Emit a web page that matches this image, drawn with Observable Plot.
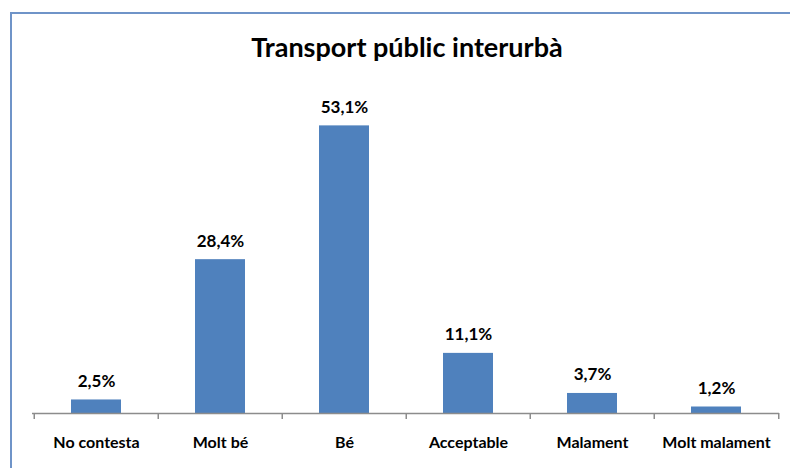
<!DOCTYPE html>
<html>
<head>
<meta charset="utf-8">
<script src="https://cdn.jsdelivr.net/npm/d3@7"></script>
<script src="https://cdn.jsdelivr.net/npm/@observablehq/plot@0.6"></script>
<style>
  html, body { margin: 0; padding: 0; background: #fff; }
  #wrap { position: relative; width: 790px; height: 468px; overflow: hidden; font-family: Lato, "Open Sans", sans-serif; }
  #frame { position: absolute; left: 10px; top: 12px; width: 790px; height: 470px; border-top: 2px solid #6f94c8; border-left: 2px solid #6f94c8; box-sizing: border-box; }
  #title { position: absolute; left: 0; width: 814px; top: 30px; text-align: center; font-size: 27px; font-weight: 700; color: #000; line-height: 34px; }
  #chart { position: absolute; left: 0; top: 0; }
</style>
</head>
<body>
<div id="wrap">
  <div id="frame"></div>
  <div id="chart"></div>
  <div id="title">Transport públic interurbà</div>
</div>
<script>
const categories = ["No contesta", "Molt bé", "Bé", "Acceptable", "Malament", "Molt malament"];
const values = [2.5, 28.4, 53.1, 11.1, 3.7, 1.2];
const data = categories.map((c, i) => ({category: c, value: values[i]}));
const fmt = v => v.toFixed(1).replace(".", ",") + "%";

const step = (790 - 32 - 11) / categories.length;

const chart = Plot.plot({
  width: 790,
  height: 468,
  marginTop: 88,
  marginBottom: 55,
  marginLeft: 32,
  marginRight: 11,
  style: {background: "transparent", color: "#000", fontFamily: "Lato, 'Open Sans', sans-serif"},
  x: {domain: categories, paddingInner: 0.6, paddingOuter: 0.3, label: null},
  y: {domain: [0, 60], axis: null},
  marks: [
    Plot.barY(data, {x: "category", y: "value", fill: "#4f81bd"}),
    Plot.ruleY([0], {stroke: "#8c8c8c", strokeWidth: 1.5}),
    Plot.ruleX(data, {x: "category", y1: 0, y2: -1.1, dx: -step / 2, stroke: "#8c8c8c", strokeWidth: 1.5}),
    Plot.ruleX([categories[categories.length - 1]], {x: d => d, y1: 0, y2: -1.1, dx: step / 2, stroke: "#8c8c8c", strokeWidth: 1.5}),
    Plot.text(data, {x: "category", y: "value", text: d => fmt(d.value), lineAnchor: "bottom", dy: -13, fontSize: 17, fontWeight: "bold", fill: "#000"}),
    Plot.axisX({tickSize: 0, tickPadding: 23, fontSize: 16, fontWeight: "bold", label: null})
  ]
});
document.getElementById("chart").appendChild(chart);
</script>
</body>
</html>
